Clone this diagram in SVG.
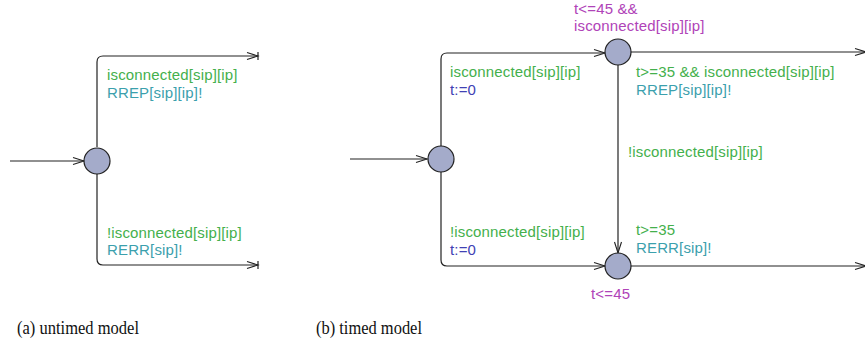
<svg xmlns="http://www.w3.org/2000/svg" width="865" height="343" viewBox="0 0 865 343">
  <defs>
    <marker id="arr" markerWidth="14" markerHeight="10" refX="12" refY="5" orient="auto" markerUnits="userSpaceOnUse">
      <path d="M1,1.5 L12,5 L1,8.5" fill="none" stroke="#222" stroke-width="1.1"/>
    </marker>
    <marker id="arrEnd" markerWidth="14" markerHeight="10" refX="12" refY="5" orient="auto" markerUnits="userSpaceOnUse">
      <path d="M1,1.5 L12,5 L1,8.5" fill="none" stroke="#222" stroke-width="1.1"/>
      <path d="M12,1 L12,9" fill="none" stroke="#222" stroke-width="1.2"/>
    </marker>
  </defs>
  <style>
    .edge { fill: none; stroke: #222; stroke-width: 1.2; }
    .loc { fill: #a4abca; stroke: #222; stroke-width: 1.2; }
    text { font-family: "Liberation Sans", Arial, sans-serif; font-size: 15px; letter-spacing: 0.15px; }
    .guard { fill: #44b04c; }
    .sync { fill: #3ba0ad; }
    .assign { fill: #4141b4; }
    .inv { fill: #b043b8; }
    .cap { font-family: "Liberation Serif", "DejaVu Serif", serif; font-size: 19.5px; fill: #111; letter-spacing: 0; }
  </style>

  <!-- connectors -->
  <g id="edges">
    <!-- untimed automaton -->
    <path class="edge" d="M10,161 L84,161" marker-end="url(#arr)"/>
    <path class="edge" d="M97,147 L97,62 Q97,56 103,56 L258,56" marker-end="url(#arrEnd)"/>
    <path class="edge" d="M97,174 L97,259 Q97,265 103,265 L258,265" marker-end="url(#arrEnd)"/>
    <!-- timed automaton -->
    <path class="edge" d="M350,159 L427,159" marker-end="url(#arr)"/>
    <path class="edge" d="M441,146 L441,59 Q441,53 447,53 L605,53" marker-end="url(#arr)"/>
    <path class="edge" d="M441,172 L441,260 Q441,266 447,266 L605,266" marker-end="url(#arr)"/>
    <path class="edge" d="M618,65 L618,253" marker-end="url(#arr)"/>
    <path class="edge" d="M631,52 L866,52" marker-end="url(#arr)"/>
    <path class="edge" d="M631,266 L866,266" marker-end="url(#arr)"/>
  </g>

  <!-- locations -->
  <g id="a-init"><circle class="loc" cx="97" cy="161" r="13"/></g>
  <g id="b-init"><circle class="loc" cx="441" cy="159" r="13"/></g>
  <g id="b-connected">
    <circle class="loc" cx="618" cy="52" r="13"/>
    <text class="inv" x="574" y="14">t&lt;=45 &amp;&amp;</text>
    <text class="inv" x="574" y="31">isconnected[sip][ip]</text>
  </g>
  <g id="b-disconnected">
    <circle class="loc" cx="618" cy="266" r="13"/>
    <text class="inv" x="591" y="299">t&lt;=45</text>
  </g>

  <!-- edge labels -->
  <g id="labels-a">
    <text class="guard" x="107" y="80">isconnected[sip][ip]</text>
    <text class="sync" x="107" y="98">RREP[sip][ip]!</text>
    <text class="guard" x="107" y="238">!isconnected[sip][ip]</text>
    <text class="sync" x="107" y="255">RERR[sip]!</text>
  </g>
  <g id="labels-b">
    <text class="guard" x="450" y="77">isconnected[sip][ip]</text>
    <text class="assign" x="450" y="95">t:=0</text>
    <text class="guard" x="450" y="237">!isconnected[sip][ip]</text>
    <text class="assign" x="450" y="255">t:=0</text>
    <text class="guard" x="636" y="77">t&gt;=35 &amp;&amp; isconnected[sip][ip]</text>
    <text class="sync" x="636" y="95">RREP[sip][ip]!</text>
    <text class="guard" x="628" y="157">!isconnected[sip][ip]</text>
    <text class="guard" x="636" y="235">t&gt;=35</text>
    <text class="sync" x="636" y="253">RERR[sip]!</text>
  </g>

  <!-- captions -->
  <text class="cap" x="17" y="334" textLength="122" lengthAdjust="spacingAndGlyphs">(a) untimed model</text>
  <text class="cap" x="316" y="334" textLength="106" lengthAdjust="spacingAndGlyphs">(b) timed model</text>
</svg>
